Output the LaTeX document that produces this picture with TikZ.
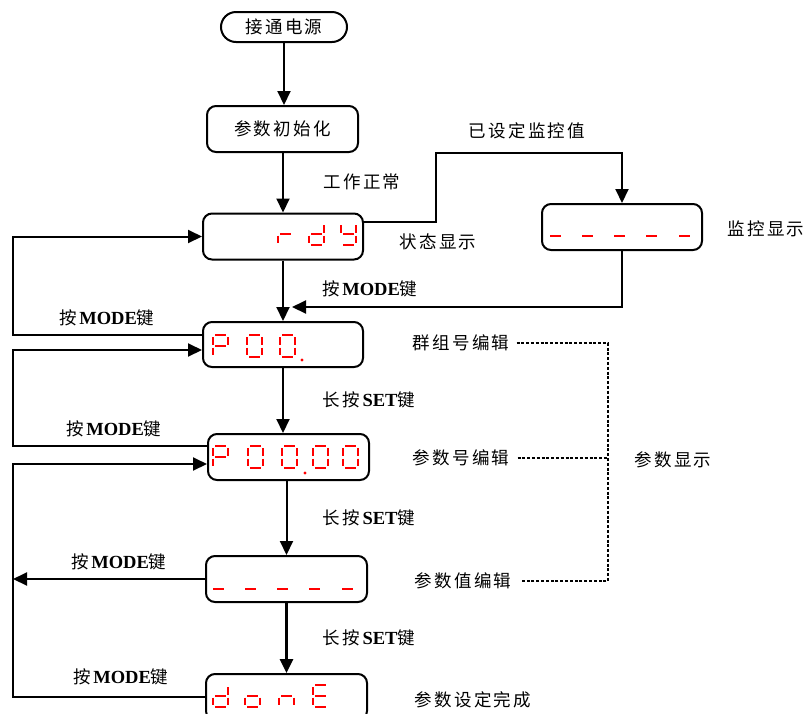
\documentclass[tikz,border=0pt]{standalone}
\usepackage{fontspec}
\setmainfont{Liberation Serif}
\newfontfamily\cjk[LetterSpace=13]{Noto Sans CJK SC}
\usetikzlibrary{arrows.meta}
\newcommand\cn[1]{{\cjk #1}}
\newcommand\lt[1]{{\fontsize{18.5}{20}\selectfont\textbf{#1}}}
\def\sega{(2,0) -- (13,0)}
\def\segb{(15,2) -- (15,9.5)}
\def\segc{(15,12.5) -- (15,20)}
\def\segd{(2,22) -- (13,22)}
\def\sege{(0,12.5) -- (0,20)}
\def\segf{(0,2) -- (0,9.5)}
\def\segg{(2,11) -- (13,11)}
\newcommand\digit[3]{%
  \begin{scope}[shift={(#1,#2)}]
    \foreach \s in {#3}{\edef\tmp{\noexpand\draw[segline] \csname seg\s\endcsname;}\tmp}
  \end{scope}}
\newcommand\segdot[2]{\fill[red] (#1,#2) circle (1.7pt);}
\tikzset{
  box/.style={draw, line width=2pt, rounded corners=9pt, minimum width=160pt, minimum height=46pt, inner sep=0pt},
  arr/.style={line width=2pt, -{Triangle[length=14pt,width=13pt]}},
  dsh/.style={line width=1.5pt, dash pattern=on 3pt off 1.8pt},
  lbl/.style={inner sep=0pt, font=\fontsize{17.5}{20}\selectfont},
  segline/.style={draw=red, line width=1.8pt},
}
\begin{document}
\begin{tikzpicture}[x=1pt,y=-1pt]
\useasboundingbox (0,0) rectangle (806,713);
\fill[white] (0,0) rectangle (806,713);
\clip (0,0) rectangle (806,713);
% boxes
\node[box, rounded corners=15pt, minimum width=126pt, minimum height=30pt, font=\fontsize{17.5}{20}\selectfont] (n1) at (284,27) {\cn{接通电源}};
\node[box, minimum width=151pt, font=\fontsize{17.5}{20}\selectfont] (n2) at (282.5,129) {\cn{参数初始化}};
\node[box] (rdy) at (283,236.5) {};
\node[box] (mon) at (622,227) {};
\node[box, minimum height=45pt] (p00) at (283,344.5) {};
\node[box, minimum width=161pt] (p0000) at (288.5,457) {};
\node[box, minimum width=161pt] (dash) at (286.5,579) {};
\node[box, minimum width=161pt] (done) at (286.5,697) {};
% displays
\digit{278}{223}{e,g}\digit{309}{223}{b,c,d,e,g}\digit{341}{223}{b,c,d,f,g}
\foreach \x in {548,580,612,644,677}{\digit{\x}{214}{d}}
\digit{213}{335}{a,b,e,f,g}\digit{247}{335}{a,b,c,d,e,f}\digit{280}{335}{a,b,c,d,e,f}\segdot{302}{360}
\digit{213}{446}{a,b,e,f,g}\digit{248}{446}{a,b,c,d,e,f}\digit{282}{446}{a,b,c,d,e,f}\segdot{305}{473}
\digit{313}{446}{a,b,c,d,e,f}\digit{343}{446}{a,b,c,d,e,f}
\foreach \x in {211,243,275,307,340}{\digit{\x}{567}{d}}
\digit{213}{685}{b,c,d,e,g}\digit{245}{685}{c,d,e,g}\digit{279}{685}{c,e,g}\digit{313}{685}{a,d,e,f,g}
% labels
\node[lbl] (t1) at (362,182) {\cn{工作正常}};
\node[lbl] (t2) at (527,131) {\cn{已设定监控值}};
\node[lbl] (t3) at (438,242) {\cn{状态显示}};
\node[lbl] (t4) at (766,229) {\cn{监控显示}};
\node[lbl] (t5) at (370,289) {\cn{按}\lt{MODE}\cn{键}};
\node[lbl] (t6) at (107,318) {\cn{按}\lt{MODE}\cn{键}};
\node[lbl] (t7) at (369,400) {\cn{长按}\lt{SET}\cn{键}};
\node[lbl] (t8) at (114,429) {\cn{按}\lt{MODE}\cn{键}};
\node[lbl] (t9) at (369,518) {\cn{长按}\lt{SET}\cn{键}};
\node[lbl] (t10) at (119,562) {\cn{按}\lt{MODE}\cn{键}};
\node[lbl] (t11) at (369,638) {\cn{长按}\lt{SET}\cn{键}};
\node[lbl] (t12) at (121,677) {\cn{按}\lt{MODE}\cn{键}};
\node[lbl] (g1) at (461,343) {\cn{群组号编辑}};
\node[lbl] (g2) at (461,458) {\cn{参数号编辑}};
\node[lbl] (g3) at (463,581) {\cn{参数值编辑}};
\node[lbl] (g4) at (673,460) {\cn{参数显示}};
\node[lbl] (g5) at (473,700) {\cn{参数设定完成}};
% coordinates
\coordinate (xL) at (13,0);
\coordinate (k1) at (436,153);
\coordinate (m1) at (292,307);
\coordinate (dv) at (608,0);
\coordinate (p00in) at ([yshift=-5.5pt]p00.west);
\coordinate (p0000in) at ([yshift=-7pt]p0000.west);
% connectors
\draw[arr] (n1.south) -- (n1.south |- n2.north);
\draw[arr] (n2.south -| rdy.north) -- (rdy.north);
\draw[arr] ([yshift=14.5pt]rdy.east) -| (k1) -- (k1 -| mon.north) -- (mon.north);
\draw[arr] (mon.south) |- (m1);
\draw[arr] (rdy.south) -- (p00.north);
\draw[arr] ([yshift=9.5pt]p00.west) -| (xL |- rdy.west) -- (rdy.west);
\draw[arr] ([yshift=11pt]p0000.west) -| (xL |- p00in) -- (p00in);
\draw[arr] (p00.south) -- (p00.south |- p0000.north);
\draw[arr] (dash.north |- p0000.south) -- (dash.north);
\draw[arr, line width=2.6pt] (dash.south) -- (done.north);
\draw[arr] (dash.west) -- (xL |- dash.west);
\draw[arr] (done.west) -| (xL |- p0000in) -- (p0000in);
% dashed brackets
\draw[dsh] ([xshift=7pt]g1.east) -| (dv |- g3.east) -- ([xshift=9pt]g3.east);
\draw[dsh] ([xshift=8pt]g2.east) -- (dv |- g2.east);
\end{tikzpicture}
\end{document}
